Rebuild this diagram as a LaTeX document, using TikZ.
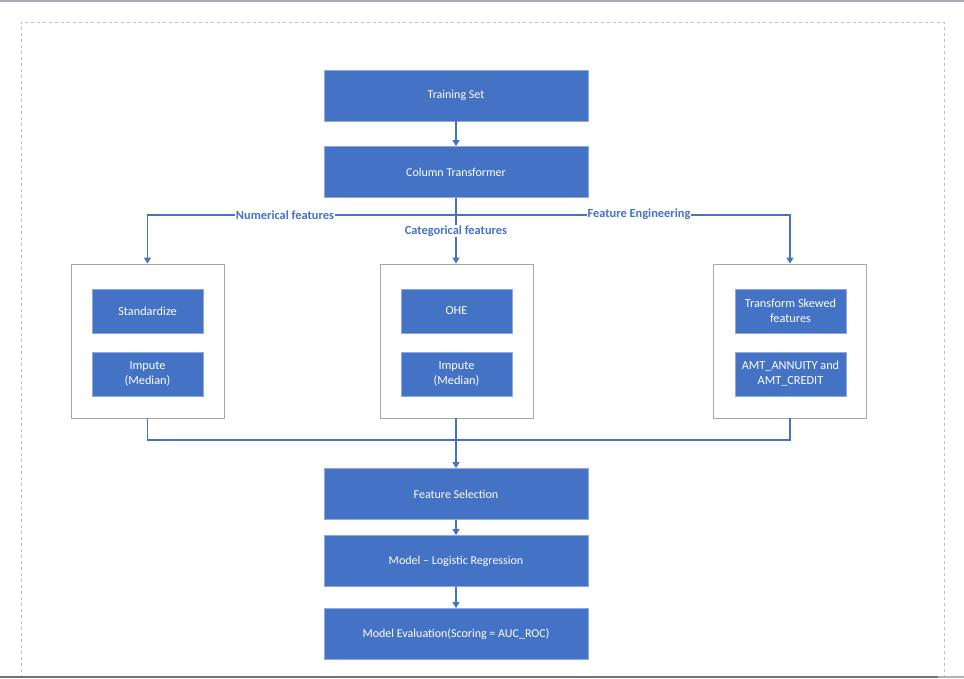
\documentclass[tikz,border=0pt]{standalone}
\usepackage{fontspec}
\setmainfont{Carlito}
\usetikzlibrary{arrows.meta}
\definecolor{boxblue}{HTML}{4472C4}
\definecolor{boxedge}{HTML}{8EA9DB}
\definecolor{linkblue}{HTML}{4472C4}
\definecolor{frame}{HTML}{A6A6A6}
\tikzset{
  stepbox/.style={draw=boxedge, line width=0.8pt, fill=boxblue, text=white,
    minimum width=264pt, minimum height=51pt, inner sep=0pt,
    font=\fontsize{12}{14}\selectfont, align=center},
  subbox/.style={draw=boxedge, line width=0.8pt, fill=boxblue, text=white,
    minimum width=111pt, minimum height=44pt, inner sep=0pt,
    font=\fontsize{12.3}{15}\selectfont, align=center},
  groupbox/.style={draw=frame, line width=0.9pt, fill=white,
    minimum width=153pt, minimum height=154pt, inner sep=0pt},
  link/.style={draw=linkblue, line width=1.3pt},
  arr/.style={link, -{Triangle[width=7pt,length=6pt]}},
  branchlabel/.style={fill=white, text=linkblue, inner sep=1pt,
    font=\bfseries\fontsize{12.4}{14}\selectfont}
}
\begin{document}
\begin{tikzpicture}[x=1pt,y=-1pt]
\useasboundingbox (0,0) rectangle (964,678);
% page frame
\draw[color=black!25, dashed, line width=0.6pt] (21,678) -- (21,22) -- (944,22) -- (944,678);
\draw[color={rgb,255:red,165;green,172;blue,181}, line width=2pt] (0,1) -- (964,1);
\draw[color=black!30, line width=2pt] (0,677) -- (964,677);
\draw[color=black!55, line width=2pt] (0,677) -- (938,677);

% main column
\node[stepbox] (train) at (456,95.5) {Training Set};
\node[stepbox] (ct) at (456,172) {Column Transformer};

% three branches
\node[groupbox] (gnum) at (147.5,341) {};
\node[groupbox] (gcat) at (456.5,341) {};
\node[groupbox] (geng) at (790,341) {};

\node[subbox] (std) at (147.5,311) {Standardize};
\node[subbox] (impn) at (147.5,374) {Impute\\(Median)};
\node[subbox] (ohe) at (456.5,311) {OHE};
\node[subbox] (impc) at (456.5,374) {Impute\\(Median)};
\node[subbox] (skew) at (790.5,311) {Transform Skewed\\features};
\node[subbox] (amt) at (790.5,374) {AMT\_ANNUITY and\\AMT\_CREDIT};

\node[stepbox] (fs) at (456,494) {Feature Selection};
\node[stepbox] (model) at (456,561) {Model -- Logistic Regression};
\node[stepbox] (eval) at (456,634) {Model Evaluation(Scoring = AUC\_ROC)};

% connectors
\coordinate (hub) at (456,215);
\coordinate (join) at (456,440);
\draw[arr] (train) -- (ct);
\draw[link] (ct.south) -- (hub);
\draw[arr] (hub) -| (gnum.north);
\draw[arr] (hub) -| (geng.north);
\draw[arr] (hub) -- (hub |- gcat.north);
\draw[link] (gnum.south) |- (join);
\draw[link] (geng.south) |- (join);
\draw[arr] (gcat.south -| fs.north) -- (fs.north);
\draw[arr] (fs) -- (model);
\draw[arr] (model) -- (eval);

% branch labels
\node[branchlabel] (lnum) at (285,215) {Numerical features};
\node[branchlabel] (lcat) at (456,231) {Categorical features};
\node[branchlabel] (leng) at (639,214) {Feature Engineering};
\end{tikzpicture}
\end{document}
